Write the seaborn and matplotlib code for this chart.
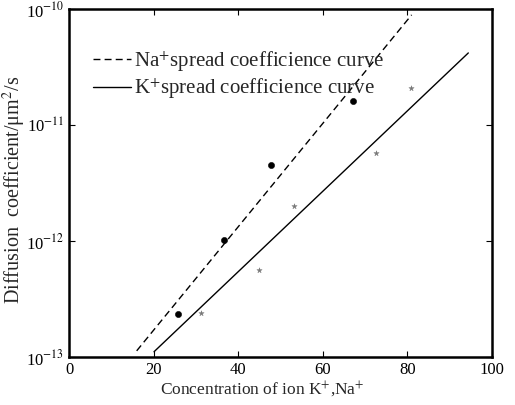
import numpy as np
import pandas as pd
import matplotlib
matplotlib.use("Agg")
import matplotlib.pyplot as plt
import seaborn as sns

# Data
na_x = [25.7, 36.7, 47.8, 67.2]
na_y = [2.35e-13, 1.03e-12, 4.55e-12, 1.62e-11]
k_x = [31.2, 44.9, 53.3, 72.5, 80.9]
k_y = [2.41e-13, 5.6e-13, 2.0e-12, 5.7e-12, 2.07e-11]
na_fit_x = [16.0, 81.0]
na_fit_y = [1.13e-13, 8.9e-11]
k_fit_x = [20.1, 94.4]
k_fit_y = [1.11e-13, 4.18e-11]
x_ticks = [0, 20, 40, 60, 80, 100]
y_ticks = [1e-13, 1e-12, 1e-11, 1e-10]
y_ticklabels = ["10$^{-13}$", "10$^{-12}$", "10$^{-11}$", "10$^{-10}$"]

sns.set_style("ticks")
plt.rcParams["font.family"] = ["Liberation Serif", "DejaVu Serif"]
plt.rcParams["mathtext.fontset"] = "stix"

fig = plt.figure(figsize=(5.15, 4.05), dpi=100)
ax = fig.add_axes([69/515, 1 - 357/405, (492-69)/515, (357-9)/405])

na_fit = pd.DataFrame({"x": na_fit_x, "y": na_fit_y})
k_fit = pd.DataFrame({"x": k_fit_x, "y": k_fit_y})
sns.lineplot(data=na_fit, x="x", y="y", ax=ax, color="black", lw=1.0,
             linestyle=(0, (5, 3)), label="Na$^{+}$spread coefficience curve")
sns.lineplot(data=k_fit, x="x", y="y", ax=ax, color="black", lw=1.0,
             label="K$^{+}$spread coefficience curve")
sns.scatterplot(x=na_x, y=na_y, ax=ax, color="black", marker="o", s=20,
                edgecolor="black", legend=False)
sns.scatterplot(x=k_x, y=k_y, ax=ax, color="#777777", marker="*", s=16,
                edgecolor="#777777", linewidth=0.3, legend=False)

ax.set_yscale("log")
ax.set_xlim(0, 100)
ax.set_ylim(1e-13, 1e-10)
ax.set_xticks(x_ticks)
ax.set_xticklabels([str(v) for v in x_ticks])
ax.set_yticks(y_ticks)
ax.set_yticklabels(y_ticklabels)
ax.minorticks_off()
ax.tick_params(direction="in", top=True, right=True, length=4, width=0.8,
               labelsize=12, colors="black")
for sp in ax.spines.values():
    sp.set_linewidth(1.8)
    sp.set_color("black")

ax.set_xlabel("Concentration of ion K$^{+}$,Na$^{+}$", fontsize=12.5)
ax.xaxis.set_label_coords((262 - 69) / 423, -(380 - 357) / 348)
ax.set_ylabel("Diffusion  coefficient/μm$^{2}$/s", fontsize=14.5)
ax.yaxis.set_label_coords(-(69 - 28) / 423, (357 - 190) / 348)

leg = ax.legend(loc="upper left", bbox_to_anchor=(0.057, 0.885), frameon=False,
                fontsize=15, handlelength=1.8, handletextpad=0.15,
                labelspacing=0.15, borderaxespad=0.0, borderpad=0.0)

fig.savefig("out.png", dpi=100)
